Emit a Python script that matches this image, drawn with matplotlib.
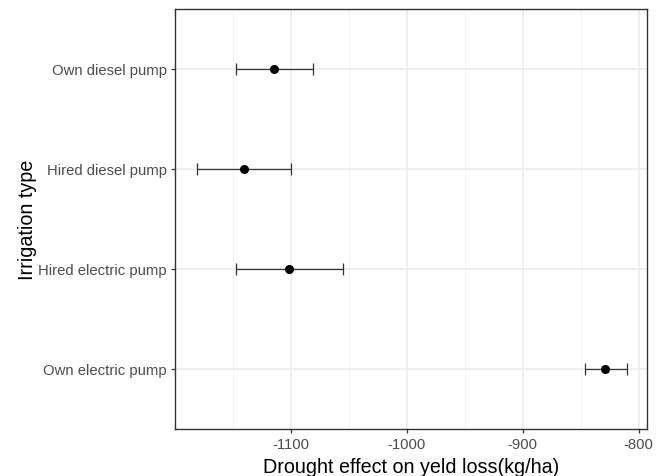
import matplotlib
matplotlib.use("Agg")
from matplotlib import pyplot as plt
import numpy as np

# drought effect estimates by irrigation type, with interval bounds
pump_types = ["Own electric pump", "Hired electric pump", "Hired diesel pump", "Own diesel pump"]
effect = [-828.6, -1101.3, -1140.0, -1114.0]
lower = [-846.0, -1147.0, -1181.0, -1147.0]
upper = [-810.0, -1055.0, -1099.6, -1080.8]

plt.rcParams['font.family'] = ['Liberation Sans', 'DejaVu Sans']
plt.rcParams['axes.unicode_minus'] = False

fig = plt.figure(figsize=(6.7, 4.77), dpi=100)
ax = fig.add_axes([175 / 670, 47 / 477, 472 / 670, 420 / 477])

ypos = np.arange(1, len(pump_types) + 1)
effect = np.array(effect)
err = [effect - np.array(lower), np.array(upper) - effect]

ax.errorbar(effect, ypos, xerr=err, fmt='none', ecolor='#333333',
            elinewidth=0.9, capsize=4, capthick=0.9, zorder=3)
ax.plot(effect, ypos, 'o', color='black', markersize=5.5, zorder=4)

ax.set_xlim(-1199.6, -792.7)
ax.set_ylim(0.4, 4.6)
ax.set_xticks([-1100, -1000, -900, -800])
ax.set_xticks([-1150, -1050, -950, -850], minor=True)
ax.set_yticks(ypos)
ax.set_yticklabels(pump_types)

# theme_bw-ish styling
ax.grid(True, which='major', color='#EBEBEB', linewidth=1.1, zorder=0)
ax.grid(True, which='minor', axis='x', color='#F2F2F2', linewidth=0.6, zorder=0)
ax.set_axisbelow(True)
for s in ax.spines.values():
    s.set_color('#333333')
    s.set_linewidth(1.0)
ax.tick_params(which='major', length=3, width=0.9, color='#333333',
               labelcolor='#4D4D4D', labelsize=10.7, pad=3)
ax.tick_params(which='minor', length=0)

ax.set_xlabel("Drought effect on yeld loss(kg/ha)", fontsize=14.2)
ax.set_ylabel("Irrigation type", fontsize=14.2, labelpad=0.5)
ax.xaxis.set_label_coords(0.5, -0.066)

fig.savefig("out.png", dpi=100)
